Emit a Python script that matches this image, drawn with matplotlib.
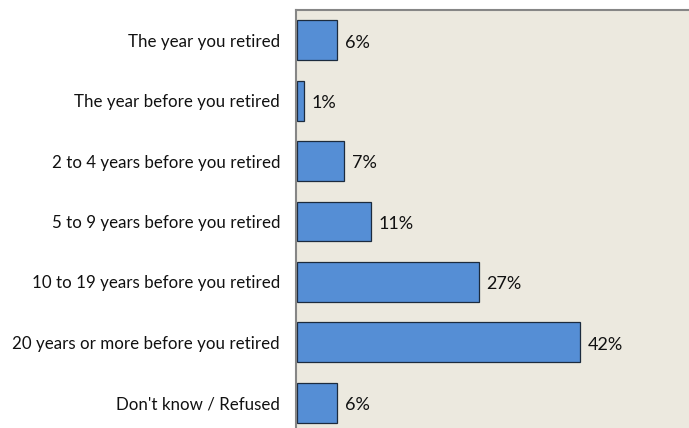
import matplotlib
matplotlib.use("Agg")
import matplotlib.pyplot as plt

categories = [
    "The year you retired",
    "The year before you retired",
    "2 to 4 years before you retired",
    "5 to 9 years before you retired",
    "10 to 19 years before you retired",
    "20 years or more before you retired",
    "Don't know / Refused",
]
values = [6, 1, 7, 11, 27, 42, 6]
value_labels = ["6%", "1%", "7%", "11%", "27%", "42%", "6%"]

W, H = 689, 428
fig = plt.figure(figsize=(W / 100, H / 100), dpi=100)
fig.patch.set_facecolor("white")

left_px, right_px, top_px, bottom_px = 296, 689, 10, 433
ax = fig.add_axes([left_px / W, (H - bottom_px) / H,
                   (right_px - left_px) / W, (bottom_px - top_px) / H])
ax.set_facecolor("#ECE9DF")

pos = list(range(len(categories)))
ax.barh(pos, values, height=0.66, color="#558ED5", edgecolor="#1C2B3E", linewidth=0.9)
ax.set_ylim(len(categories) - 0.5, -0.5)
ax.set_xlim(-0.15, 58.2)

for p, v, lab in zip(pos, values, value_labels):
    ax.text(v + 1.1, p + 0.04, lab, va="center", ha="left", fontsize=13,
            family="Lato", color="#111111")

ax.set_yticks(pos)
ax.set_yticklabels(categories, fontsize=12.2, family="Lato", color="#111111")
ax.tick_params(axis="y", length=0, pad=11.5)
ax.set_xticks([])

for s in ["left", "top"]:
    ax.spines[s].set_color("#868686")
    ax.spines[s].set_linewidth(1.5)
for s in ["right", "bottom"]:
    ax.spines[s].set_visible(False)

fig.savefig("out.png", dpi=100)
